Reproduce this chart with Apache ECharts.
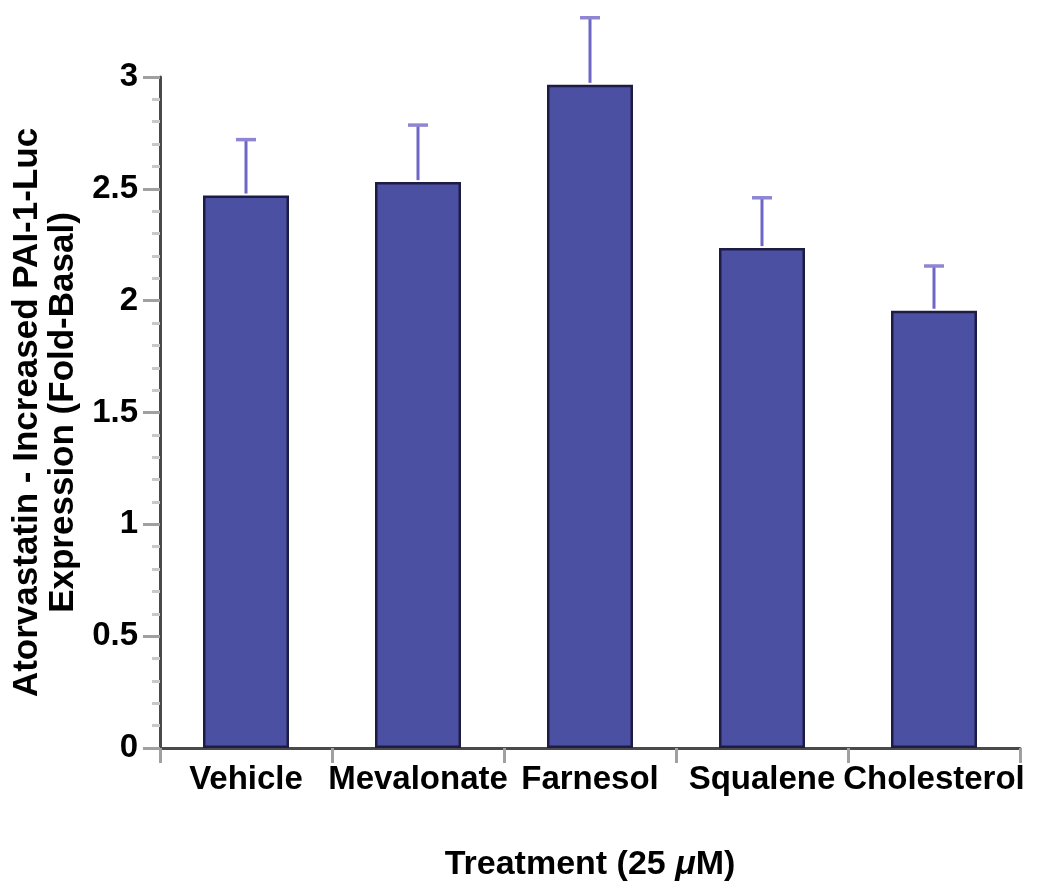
<!DOCTYPE html>
<html>
<head>
<meta charset="utf-8">
<script src="https://cdn.jsdelivr.net/npm/echarts@6/dist/echarts.min.js"></script>
<style>
html,body{margin:0;padding:0;background:#fff;}
#chart{width:1037px;height:884px;}
</style>
</head>
<body>
<div id="chart"></div>
<script>
var categories = ['Vehicle', 'Mevalonate', 'Farnesol', 'Squalene', 'Cholesterol'];
var means = [2.47, 2.53, 2.965, 2.235, 1.955];
var errorTops = [2.72, 2.785, 3.265, 2.46, 2.155];
var yTicks = [0, 0.5, 1, 1.5, 2, 2.5, 3];

var FONT = '"Liberation Sans", Arial, sans-serif';
var chart = echarts.init(document.getElementById('chart'));

var errData = categories.map(function (c, i) { return [i, means[i], errorTops[i]]; });

chart.setOption({
  animation: false,
  backgroundColor: '#fff',
  grid: { left: 160, right: 17, top: 77, bottom: 136, containLabel: false, outerBoundsMode: 'none' },
  xAxis: {
    type: 'category',
    data: categories,
    boundaryGap: true,
    axisLine: { lineStyle: { color: '#4a4a4a', width: 3 } },
    axisTick: { show: true, inside: false, length: 15, lineStyle: { color: '#a0a0a0', width: 3 } },
    axisLabel: { color: '#000', fontFamily: FONT, fontWeight: 'bold', fontSize: 33, margin: 15, interval: 0 },
    name: '{a|Treatment (25 }{b|μ}{a|M)}',
    nameLocation: 'middle',
    nameGap: 100,
    nameTextStyle: {
      rich: {
        a: { color: '#000', fontFamily: FONT, fontWeight: 'bold', fontSize: 34 },
        b: { color: '#000', fontFamily: FONT, fontWeight: 'bold', fontStyle: 'italic', fontSize: 34 }
      }
    }
  },
  yAxis: {
    type: 'value',
    min: 0,
    max: 3,
    interval: 0.5,
    axisLine: { show: true, lineStyle: { color: '#4a4a4a', width: 3 } },
    axisTick: { show: true, inside: false, length: 17, lineStyle: { color: '#a0a0a0', width: 3 } },
    minorTick: { show: true, splitNumber: 5, length: 8, lineStyle: { color: '#c8c8c8', width: 3 } },
    splitLine: { show: false },
    axisLabel: {
      color: '#000', fontFamily: FONT, fontWeight: 'bold', fontSize: 33, margin: 22,
      formatter: function (v) { return yTicks.indexOf(v) >= 0 ? String(v) : ''; }
    },
    name: 'Atorvastatin - Increased PAI-1-Luc\nExpression (Fold-Basal)',
    nameLocation: 'middle',
    nameRotate: 90,
    nameGap: 78,
    nameTextStyle: { color: '#000', fontFamily: FONT, fontWeight: 'bold', fontSize: 35, lineHeight: 36, align: 'center' }
  },
  series: [
    {
      type: 'bar',
      data: means,
      barWidth: '50%',
      itemStyle: { color: '#4b50a2', borderColor: '#1c1c45', borderWidth: 2.5 },
      z: 2
    },
    {
      type: 'custom',
      data: errData,
      clip: false,
      z: 3,
      renderItem: function (params, api) {
        var x = api.value(0);
        var base = api.coord([x, api.value(1)]);
        var top = api.coord([x, api.value(2)]);
        var hw = 10;
        return {
          type: 'group',
          children: [
            { type: 'line', shape: { x1: base[0], y1: base[1] - 2, x2: top[0], y2: top[1] },
              style: { stroke: '#6c66c4', lineWidth: 3 } },
            { type: 'line', shape: { x1: top[0] - hw, y1: top[1], x2: top[0] + hw, y2: top[1] },
              style: { stroke: '#8e86d2', lineWidth: 3.5 } }
          ]
        };
      }
    }
  ]
});
</script>
</body>
</html>
